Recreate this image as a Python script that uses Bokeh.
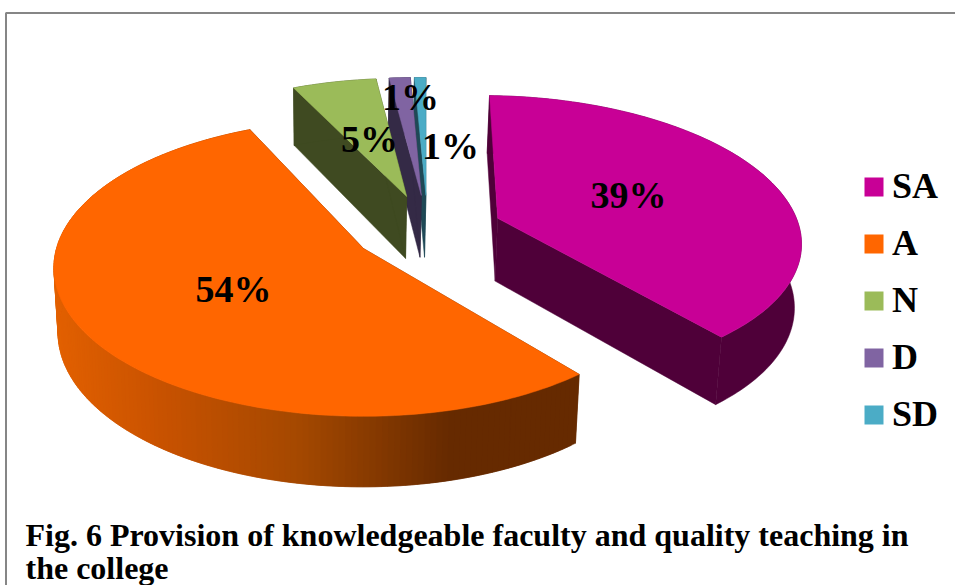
import math
from bokeh.plotting import figure
from bokeh.models import Range1d
from bokeh.core.properties import value
from bokeh.embed import file_html
from bokeh.resources import INLINE

categories = ["SA", "A", "N", "D", "SD"]
shares = [38.7, 54.1, 5.2, 1.3, 0.7]
top_colors = ["#C80096", "#FF6600", "#9BBB59", "#8064A2", "#4BACC6"]
side_colors = ["#4F0039", "#662A00", "#3F4A21", "#342A46", "#1F4956"]
caption = ["Fig. 6 Provision of knowledgeable faculty and quality teaching in", "the college"]

# layout of the projected pie, in page pixels
W, H = 955, 585
X0, Y0, AX, AY, K = 363.0, 248.0, 307.0, 146.0, 0.13
START, EXPLODE, DEPTH = 1.5, 0.25, 64.0
BX0, BSCALE = 330.0, 0.985
SERIF = value("Liberation Serif")
RIM_STOPS = [(54, "#E26000"), (160, "#C85200"), (300, "#A44800"), (450, "#662A00")]

p = figure(width=W, height=H, output_backend="svg", toolbar_location=None,
           x_range=Range1d(0, W), y_range=Range1d(H, 0),
           x_axis_location=None, y_axis_location=None,
           min_border=0, outline_line_color=None, background_fill_color="white",
           border_fill_color="white")
p.grid.visible = False


def top(u, v):
    w = 1 + K * v
    return X0 + AX * u / w, Y0 - AY * v / w


def bottom(u, v):
    x, y = top(u, v)
    return BX0 + (x - BX0) * BSCALE, y + DEPTH / (1 + K * v) ** 0.7


def mix(c1, c2, t):
    a = [int(c1[i:i + 2], 16) for i in (1, 3, 5)]
    b = [int(c2[i:i + 2], 16) for i in (1, 3, 5)]
    return "#%02x%02x%02x" % tuple(round(a[i] + (b[i] - a[i]) * t) for i in range(3))


def rim_color(x):
    for (x1, c1), (x2, c2) in zip(RIM_STOPS, RIM_STOPS[1:]):
        if x < x2:
            return mix(c1, c2, max(0, (x - x1) / (x2 - x1)))
    return RIM_STOPS[-1][1]


# slice angles from the shares
total = sum(shares)
edges = [START]
for s in shares:
    edges.append(edges[-1] + 360 * s / total)
bis = [math.radians((edges[i] + edges[i + 1]) / 2) for i in range(len(shares))]
# the shared centre: slice A's apex sits at the origin of the projection
cu = -EXPLODE * math.sin(bis[1])
cv = -EXPLODE * math.cos(bis[1])

for i in [4, 3, 2, 0, 1]:
    au = cu + EXPLODE * math.sin(bis[i])
    av = cv + EXPLODE * math.cos(bis[i])
    n = max(4, int(edges[i + 1] - edges[i]))
    th = [math.radians(edges[i] + (edges[i + 1] - edges[i]) * j / n) for j in range(n + 1)]
    pts = [(au + math.sin(t), av + math.cos(t)) for t in th]
    tp = [top(*q) for q in pts]
    bt = [bottom(*q) for q in pts]
    apex_t = top(au, av)
    apex_b = bottom(au, av)
    xs, ys, cols = [], [], []
    for e in (0, -1):
        xs.append([apex_t[0], tp[e][0], bt[e][0], apex_b[0]])
        ys.append([apex_t[1], tp[e][1], bt[e][1], apex_b[1]])
        cols.append(side_colors[i])
    if categories[i] == "A":
        # a gradient along the rim: bands that overlap, so no seams show
        for j in range(n):
            j2 = min(n, j + 2)
            xs.append([tp[j][0], tp[j2][0], bt[j2][0], bt[j][0]])
            ys.append([tp[j][1], tp[j2][1], bt[j2][1], bt[j][1]])
            cols.append(rim_color((tp[j][0] + tp[j + 1][0]) / 2))
    else:
        xs.append([q[0] for q in tp] + [q[0] for q in reversed(bt)])
        ys.append([q[1] for q in tp] + [q[1] for q in reversed(bt)])
        cols.append(side_colors[i])
    p.patches(xs, ys, fill_color=cols, line_color=cols, line_width=0.5)
    p.patch([apex_t[0]] + [q[0] for q in tp], [apex_t[1]] + [q[1] for q in tp],
            fill_color=top_colors[i], line_color=top_colors[i], line_width=0.5)

# frame
p.line([W, 5.5, 5.5], [12.5, 12.5, H], line_color="#868686", line_width=2)

# percent labels
label_x = [628, 233, 369, 410, 450]
label_y = [194, 288, 138, 96, 145]
p.text(label_x, label_y, text=[f"{round(s)}%" for s in shares], text_font=SERIF,
       text_font_style="bold", text_font_size="38px", text_color="black",
       text_align="center", text_baseline="alphabetic")

# legend
leg_y = [186.5, 243.5, 300.5, 357.5, 414.5]
p.rect([873.5] * 5, leg_y, width=19, height=19, fill_color=top_colors, line_color=None)
p.text([891.5] * 5, [y - 1 for y in leg_y], text=categories, text_font=SERIF,
       text_font_style="bold", text_font_size="36px", text_color="black",
       text_align="left", text_baseline="alphabetic")

# caption
p.text([25, 25], [534, 567], text=caption, text_font=SERIF, text_font_style="bold",
       text_font_size="32px", text_color="black", text_align="left",
       text_baseline="alphabetic")

open("out.html", "w").write(file_html(p, INLINE))
